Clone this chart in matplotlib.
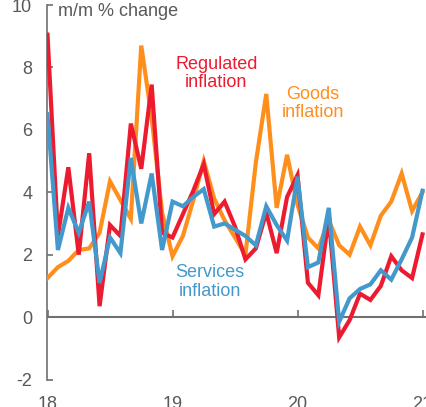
import matplotlib
matplotlib.use("Agg")
import matplotlib.pyplot as plt
import numpy as np

plt.rcParams['font.family'] = ['Liberation Sans', 'DejaVu Sans']

# Monthly observations, Jan 2018 .. Jan 2021
start_year = 2018
regulated = [9.05, 2.6, 4.8, 2.0, 5.25, 0.35, 2.95, 2.6, 6.2, 4.75, 7.45, 2.7,
             2.55, 3.3, 4.05, 4.9, 3.3, 3.7, 2.9, 1.85, 2.2, 3.35, 2.05, 3.85,
             4.55, 1.1, 0.7, 3.2, -0.65, -0.1, 0.75, 0.55, 1.0, 1.95, 1.5, 1.25,
             2.65]
goods = [1.25, 1.6, 1.8, 2.15, 2.2, 2.7, 4.35, 3.75, 3.15, 8.7, 6.4, 3.35,
         1.95, 2.6, 3.75, 5.0, 3.8, 3.1, 2.55, 2.0, 4.95, 7.15, 3.5, 5.2,
         3.6, 2.55, 2.2, 3.1, 2.3, 2.0, 2.9, 2.3, 3.25, 3.7, 4.6, 3.4,
         4.0]
services = [6.5, 2.15, 3.5, 2.7, 3.7, 1.1, 2.55, 2.05, 5.1, 3.0, 4.6, 2.15,
            3.7, 3.55, 3.85, 4.1, 2.9, 3.0, 2.8, 2.6, 2.3, 3.55, 2.95, 2.45,
            4.5, 1.6, 1.75, 3.5, -0.15, 0.6, 0.9, 1.05, 1.5, 1.2, 1.85, 2.55,
            4.05]

x_ticks = [2018, 2019, 2020, 2021]
x_ticklabels = ["18", "19", "20", "21"]
y_ticks = [-2, 0, 2, 4, 6, 8, 10]

red = '#EC1B30'
orange = '#FF8F1C'
blue = '#4399CC'
grey_text = '#595959'
grey_axis = '#707070'

x = start_year + np.arange(len(regulated)) / 12.0

W, H = 427, 407
fig = plt.figure(figsize=(W / 100, H / 100), dpi=100)
left_px, right_px = 47.5, 427
top_px, bottom_px = 5, 379.5
ax = fig.add_axes([left_px / W, (H - bottom_px) / H,
                   (right_px - left_px) / W, (bottom_px - top_px) / H])

ax.plot(x, goods, color=orange, lw=3, solid_joinstyle='miter', zorder=3)
ax.plot(x, regulated, color=red, lw=3, solid_joinstyle='miter', zorder=3)
ax.plot(x, services, color=blue, lw=3, solid_joinstyle='miter', zorder=4)

ax.set_ylim(-2, 10)
ax.set_xlim(2018, 2018 + (right_px - left_px) / 125.0)

for s in ['top', 'right']:
    ax.spines[s].set_visible(False)
ax.spines['left'].set_color(grey_axis)
ax.spines['left'].set_linewidth(1.2)
ax.spines['bottom'].set_position(('data', 0))
ax.spines['bottom'].set_color(grey_axis)
ax.spines['bottom'].set_linewidth(1.5)
ax.spines['bottom'].set_zorder(2)

ax.set_yticks(y_ticks)
ax.set_yticklabels([str(v) for v in y_ticks])
ax.tick_params(axis='y', direction='in', length=4, width=1.2, color=grey_axis,
               labelsize=13, labelcolor=grey_text, pad=11)

ax.set_xticks(x_ticks)
ax.tick_params(axis='x', direction='in', length=5, width=1.2, color=grey_axis,
               labelbottom=False)

sec = ax.secondary_xaxis('bottom')
sec.set_xticks(x_ticks)
sec.set_xticklabels(x_ticklabels)
sec.spines['bottom'].set_visible(False)
sec.tick_params(axis='x', length=0, labelsize=13, labelcolor=grey_text, pad=12)

ax.text(2018.08, 9.8, "m/m % change", fontsize=13, color=grey_text,
        ha='left', va='center')
ax.text(2019.35, 7.8, "Regulated\ninflation", fontsize=13, color=red,
        ha='center', va='center', multialignment='center', linespacing=1.05)
ax.text(2020.125, 6.85, "Goods\ninflation", fontsize=13, color=orange,
        ha='center', va='center', multialignment='center', linespacing=1.1)
ax.text(2019.30, 1.12, "Services\ninflation", fontsize=13, color=blue,
        ha='center', va='center', multialignment='center', linespacing=1.1)

fig.savefig("out.png", dpi=100)
